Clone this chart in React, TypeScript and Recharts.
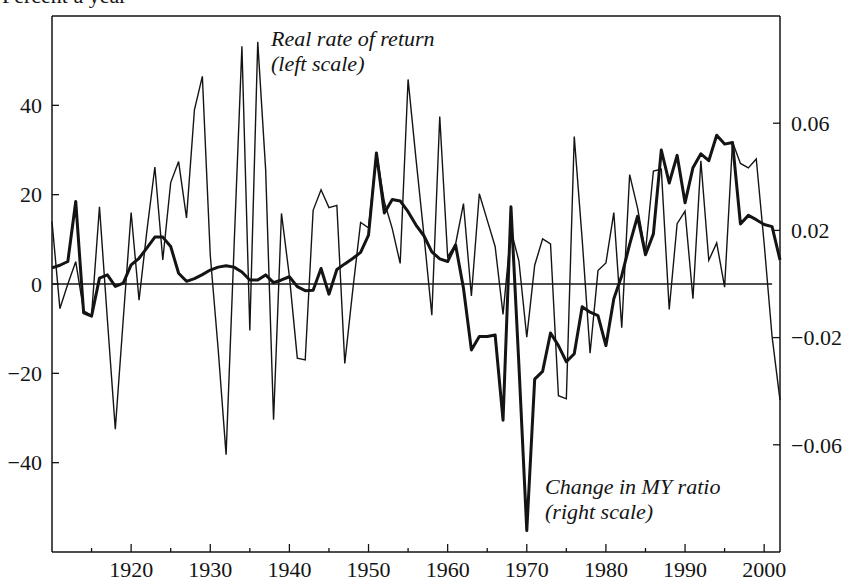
import { LineChart, Line, XAxis, YAxis, ReferenceLine } from "recharts";

const INK = "#141414";
const FONT = '"Liberation Serif", "Times New Roman", serif';

// real rate of return, percent a year, 1910..2002 (left scale)
const realReturn = [
  14, -5.5, 0, 5, -6, -7, 17.3, -8, -32.5, -8,
  16, -3.6, 12, 26.2, 5.4, 22.7, 27.4, 14.8, 39, 46.5,
  6.5, -14.6, -38.2, 8, 53.2, -10.4, 54.2, 25.6, -30.4, 15.8,
  1.7, -16.6, -17, 16.5, 21.1, 17.1, 17.6, -17.8, -1.5, 13.8,
  12.6, 29.5, 18.4, 12.4, 4.6, 45.8, 28, 11, -7, 37.5,
  6.1, 8.9, 18, -2.7, 20.2, 14.3, 8.4, -6.8, 12, 5.2,
  -11.9, 4.2, 10.1, 9, -25, -25.7, 33, 10, -15.5, 3,
  4.7, 16, -9.8, 24.5, 17, 7.2, 25.3, 25.7, -5.7, 13.5,
  16.3, -3.3, 27.6, 5.3, 9.2, -0.7, 31.8, 27, 26, 28,
  9, -11.8, -26,
];

// change in MY ratio, 1910..2002 (right scale)
const myChange = [
  0.006, 0.007, 0.0084, 0.0308, -0.0108, -0.012, 0.0022, 0.0034, -0.0009, 0.0003,
  0.0071, 0.0096, 0.0135, 0.0175, 0.0175, 0.014, 0.004, 0.001, 0.002, 0.0035,
  0.0052, 0.0063, 0.0068, 0.0063, 0.0045, 0.0015, 0.0015, 0.0034, 0.0005, 0.0015,
  0.0027, -0.001, -0.0025, -0.0023, 0.0058, -0.0038, 0.0054, 0.0075, 0.0095, 0.0118,
  0.0182, 0.0489, 0.0265, 0.0315, 0.031, 0.027, 0.022, 0.018, 0.012, 0.0094,
  0.0084, 0.0146, -0.0016, -0.0246, -0.0196, -0.0196, -0.019, -0.0508, 0.0288, -0.03,
  -0.092, -0.0355, -0.0326, -0.0183, -0.023, -0.029, -0.026, -0.0085, -0.0105, -0.0118,
  -0.023, -0.0055, 0.0031, 0.0148, 0.0253, 0.0109, 0.0187, 0.05, 0.0377, 0.048,
  0.0303, 0.0434, 0.0486, 0.046, 0.0555, 0.0522, 0.0528, 0.0224, 0.0256, 0.024,
  0.0222, 0.0214, 0.009,
];

const firstYear = 1910;
const yearTicks = [
  1915, 1920, 1925, 1930, 1935, 1940, 1945, 1950, 1955,
  1960, 1965, 1970, 1975, 1980, 1985, 1990, 1995, 2000,
];
const leftTicks = [-40, -20, 0, 20, 40];
const rightTicks = [-0.06, -0.02, 0.02, 0.06];

const data = realReturn.map((r, i) => ({
  year: firstYear + i,
  real: r,
  my: myChange[i],
}));

const minus = (s: string) => s.replace("-", "\u2212");

const labelStyle = { fontFamily: FONT, fontSize: 22, fill: INK };

function YearTick(props: any) {
  const { x, y, payload } = props;
  const major = payload.value % 10 === 0;
  return (
    <g>
      <line x1={x} x2={x} y1={y} y2={y - (major ? 8 : 4)} stroke={INK} strokeWidth={1.3} />
      {major && (
        <text x={x} y={y + 25} textAnchor="middle" {...labelStyle}>
          {payload.value}
        </text>
      )}
    </g>
  );
}

function LeftTick(props: any) {
  const { x, y, payload } = props;
  return (
    <g>
      <line x1={x} x2={x + 7} y1={y} y2={y} stroke={INK} strokeWidth={1.3} />
      <text x={x - 10} y={y} dy="0.35em" textAnchor="end" {...labelStyle}>
        {minus(String(payload.value))}
      </text>
    </g>
  );
}

function RightTick(props: any) {
  const { x, y, payload } = props;
  return (
    <g>
      <line x1={x} x2={x - 7} y1={y} y2={y} stroke={INK} strokeWidth={1.3} />
      <text x={x + 11} y={y} dy="0.35em" textAnchor="start" {...labelStyle}>
        {minus(payload.value.toFixed(2))}
      </text>
    </g>
  );
}

export default function App() {
  const note = { fontFamily: FONT, fontSize: 22, fontStyle: "italic", fill: INK };
  return (
    <div style={{ position: "absolute", left: 0, top: 0, width: 847, height: 582, background: "#fff" }}>
      <LineChart
        width={847}
        height={582}
        data={data}
        margin={{ top: 16, right: 0, bottom: 0, left: 0 }}
        style={{ fontFamily: FONT }}
      >
        <XAxis
          type="number"
          dataKey="year"
          domain={[1910, 2002]}
          ticks={yearTicks}
          interval={0}
          tick={YearTick}
          tickLine={false}
          tickSize={0}
          tickMargin={0}
          height={30}
          axisLine={{ stroke: INK, strokeWidth: 1.5 }}
        />
        <YAxis
          yAxisId="left"
          domain={[-60, 60]}
          ticks={leftTicks}
          interval={0}
          tick={LeftTick}
          tickLine={false}
          tickSize={0}
          tickMargin={0}
          width={52}
          axisLine={{ stroke: INK, strokeWidth: 1.5 }}
        />
        <YAxis
          yAxisId="right"
          orientation="right"
          domain={[-0.1, 0.1]}
          ticks={rightTicks}
          interval={0}
          tick={RightTick}
          tickLine={false}
          tickSize={0}
          tickMargin={0}
          width={67}
          axisLine={{ stroke: INK, strokeWidth: 1.5 }}
        />
        <ReferenceLine yAxisId="left" y={60} stroke={INK} strokeWidth={1.3} />
        <ReferenceLine
          yAxisId="left"
          segment={[
            { x: 1910, y: 0 },
            { x: 2001, y: 0 },
          ]}
          stroke={INK}
          strokeWidth={1.5}
        />
        <Line
          yAxisId="left"
          type="linear"
          dataKey="real"
          stroke={INK}
          strokeWidth={1.4}
          dot={false}
          isAnimationActive={false}
        />
        <Line
          yAxisId="right"
          type="linear"
          dataKey="my"
          stroke={INK}
          strokeWidth={3}
          strokeLinejoin="round"
          dot={false}
          isAnimationActive={false}
        />
      </LineChart>
      <svg
        width={847}
        height={582}
        style={{ position: "absolute", left: 0, top: 0, pointerEvents: "none" }}
      >
        <text x={2} y={3} fontFamily={FONT} fontSize={22} fill={INK}>
          Percent a year
        </text>
        <text x={271} y={46} {...note}>Real rate of return</text>
        <text x={271} y={71} {...note}>(left scale)</text>
        <text x={545} y={494} {...note}>Change in MY ratio</text>
        <text x={545} y={519} {...note}>(right scale)</text>
      </svg>
    </div>
  );
}
